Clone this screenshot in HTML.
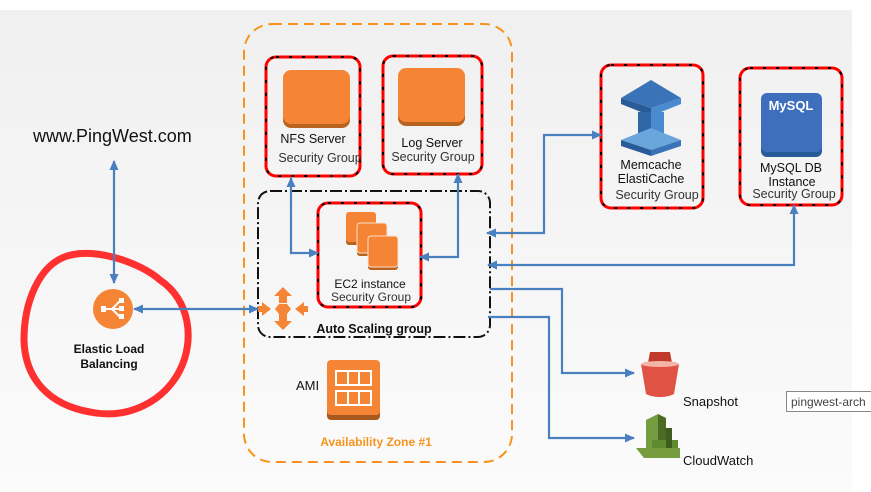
<!DOCTYPE html>
<html><head><meta charset="utf-8"><style>
html,body{margin:0;padding:0;background:#fff;}
svg{display:block;font-family:"Liberation Sans",Arial,sans-serif;}
</style></head><body>
<svg width="871" height="492" viewBox="0 0 871 492" xmlns="http://www.w3.org/2000/svg">
<defs>
<linearGradient id="bg" x1="0" y1="0" x2="0" y2="1"><stop offset="0" stop-color="#f0f0f0"/><stop offset="1" stop-color="#fbfbfb"/></linearGradient>
<marker id="ah" markerWidth="10" markerHeight="10" refX="9" refY="5" orient="auto" markerUnits="userSpaceOnUse"><path d="M0,0.5 L10,5 L0,9.5 z" fill="#4a7fc0"/></marker>
<marker id="at" markerWidth="10" markerHeight="10" refX="1" refY="5" orient="auto" markerUnits="userSpaceOnUse"><path d="M10,0.5 L0,5 L10,9.5 z" fill="#4a7fc0"/></marker>
</defs>
<rect x="0" y="10" width="852" height="482" fill="url(#bg)"/>

<rect x="244" y="24" width="268" height="438" rx="28" fill="none" stroke="#f7941d" stroke-width="2" stroke-dasharray="10 6"/>
<rect x="258" y="191" width="232" height="146" rx="12" fill="none" stroke="#111" stroke-width="2" stroke-dasharray="12 3 2 3"/>

<g fill="none">
<rect x="266" y="57" width="94" height="119" rx="10" stroke="#f00" stroke-width="3"/>
<rect x="266" y="57" width="94" height="119" rx="10" stroke="#000" stroke-width="2" stroke-dasharray="3 10"/>
<rect x="383" y="56" width="99" height="118" rx="10" stroke="#f00" stroke-width="3"/>
<rect x="383" y="56" width="99" height="118" rx="10" stroke="#000" stroke-width="2" stroke-dasharray="3 10"/>
<rect x="318" y="203" width="103" height="104" rx="10" stroke="#f00" stroke-width="3"/>
<rect x="318" y="203" width="103" height="104" rx="10" stroke="#000" stroke-width="2" stroke-dasharray="3 10"/>
<rect x="601" y="65" width="102" height="143" rx="10" stroke="#f00" stroke-width="3"/>
<rect x="601" y="65" width="102" height="143" rx="10" stroke="#000" stroke-width="2" stroke-dasharray="3 10"/>
<rect x="740" y="68" width="102" height="137" rx="10" stroke="#f00" stroke-width="3"/>
<rect x="740" y="68" width="102" height="137" rx="10" stroke="#000" stroke-width="2" stroke-dasharray="3 10"/>
</g>

<rect x="283" y="72" width="67" height="56" rx="8" fill="#b8631f"/>
<rect x="283" y="70" width="67" height="54" rx="8" fill="#f58535"/>
<rect x="398" y="70" width="67" height="56" rx="8" fill="#b8631f"/>
<rect x="398" y="68" width="67" height="54" rx="8" fill="#f58535"/>

<g>
<rect x="346" y="213" width="30" height="32" rx="3" fill="#b8631f"/><rect x="346" y="212" width="30" height="30" rx="3" fill="#f58535"/>
<rect x="357" y="224" width="30" height="32" rx="3" fill="#b8631f"/><rect x="357" y="223" width="30" height="30" rx="3" fill="#f58535" stroke="#fbe0cc" stroke-width="1"/>
<rect x="368" y="237" width="30" height="33" rx="3" fill="#b8631f"/><rect x="368" y="236" width="30" height="31" rx="3" fill="#f58535" stroke="#fbe0cc" stroke-width="1"/>
</g>
<text x="370" y="288" font-size="12" text-anchor="middle" fill="#111">EC2 instance</text>
<text x="371" y="301" font-size="12" text-anchor="middle" fill="#333">Security Group</text>

<text x="313" y="143" font-size="12.5" text-anchor="middle" fill="#111">NFS Server</text>
<text x="320" y="162" font-size="12.5" text-anchor="middle" fill="#333">Security Group</text>
<text x="432" y="147" font-size="12.5" text-anchor="middle" fill="#111">Log Server</text>
<text x="433" y="161" font-size="12.5" text-anchor="middle" fill="#333">Security Group</text>

<g fill="#f58535">
<path d="M283,287 L292,296 L287,296 L287,303 L279,303 L279,296 L274,296 z"/>
<path d="M283,330 L292,321 L287,321 L287,314 L279,314 L279,321 L274,321 z"/>
<path d="M271,309 L262,302 L262,306 L258,306 L258,312 L262,312 L262,316 z"/>
<path d="M295,309 L304,302 L304,306 L308,306 L308,312 L304,312 L304,316 z"/>
<path d="M279,304 L287,304 L291,309 L287,314 L279,314 L275,309 z"/>
</g>
<text x="374" y="333" font-size="12.5" font-weight="bold" text-anchor="middle" fill="#111">Auto Scaling group</text>

<text x="296" y="390" font-size="13" fill="#111">AMI</text>
<rect x="327" y="362" width="53" height="58" rx="4" fill="#a85a1e"/>
<rect x="327" y="360" width="53" height="55" rx="4" fill="#f58535"/>
<g fill="none" stroke="#fff" stroke-width="2">
<rect x="336" y="371" width="35" height="14"/><rect x="336" y="391" width="35" height="14"/>
<line x1="348" y1="371" x2="348" y2="385"/><line x1="359" y1="371" x2="359" y2="385"/>
<line x1="348" y1="391" x2="348" y2="405"/><line x1="359" y1="391" x2="359" y2="405"/>
</g>
<text x="376" y="446" font-size="12" font-weight="bold" text-anchor="middle" fill="#f7941d">Availability Zone #1</text>

<text x="33" y="142" font-size="18" fill="#111">www.PingWest.com</text>
<circle cx="113" cy="309" r="20" fill="#f58535"/>
<g stroke="#fff" stroke-width="2" fill="none"><path d="M104,309 L112,309 M112,309 L120,301 M112,309 L120,309 M112,309 L120,317"/></g>
<g fill="#fff"><rect x="101" y="306" width="5" height="6"/><rect x="119" y="298" width="5" height="5"/><rect x="119" y="306" width="5" height="5"/><rect x="119" y="314" width="5" height="5"/></g>
<text x="109" y="353" font-size="12" font-weight="bold" text-anchor="middle" fill="#111">Elastic Load</text>
<text x="109" y="368" font-size="12" font-weight="bold" text-anchor="middle" fill="#111">Balancing</text>
<path d="M62,258 C90,245 140,262 160,280 C190,300 195,340 180,370 C165,400 130,420 90,412 C50,405 25,380 24,340 C24,300 40,268 62,258 Z" fill="none" stroke="#ff3030" stroke-width="7" stroke-linejoin="round"/>

<g stroke="#4a7fc0" stroke-width="2.2" fill="none">
<line x1="114" y1="161" x2="114" y2="283" marker-start="url(#at)" marker-end="url(#ah)"/>
<line x1="134" y1="309" x2="258" y2="309" marker-start="url(#at)" marker-end="url(#ah)"/>
<polyline points="291,178 291,253 318,253" marker-start="url(#at)" marker-end="url(#ah)"/>
<polyline points="458,174 458,257 420,257" marker-start="url(#at)" marker-end="url(#ah)"/>
<polyline points="487,233 544,233 544,135 601,135" marker-start="url(#at)" marker-end="url(#ah)"/>
<polyline points="488,265 794,265 794,205" marker-start="url(#at)" marker-end="url(#ah)"/>
<polyline points="490,289 562,289 562,373 634,373" marker-end="url(#ah)"/>
<polyline points="488,317 549,317 549,438 634,438" marker-end="url(#ah)"/>
</g>

<!-- Memcache icon -->
<path d="M621,98 L651,80 L681,98 L651,108 z" fill="#3a73b8"/>
<path d="M621,98 L651,108 L651,116 L621,104 z" fill="#2a5b99"/>
<path d="M681,98 L651,108 L651,116 L681,104 z" fill="#4a8bd0"/>
<rect x="638" y="112" width="13" height="24" fill="#2f66a8"/>
<rect x="651" y="112" width="13" height="24" fill="#4a8bd0"/>
<path d="M621,140 L651,128 L681,140 L651,150 z" fill="#6aa5dc"/>
<path d="M621,140 L651,150 L651,156 L621,146 z" fill="#2a5b99"/>
<path d="M681,140 L651,150 L651,156 L681,146 z" fill="#3a73b8"/>
<text x="651" y="169" font-size="12.5" text-anchor="middle" fill="#111">Memcache</text>
<text x="651" y="183" font-size="12.5" text-anchor="middle" fill="#111">ElastiCache</text>
<text x="657" y="199" font-size="12.5" text-anchor="middle" fill="#333">Security Group</text>

<rect x="761" y="95" width="61" height="62" rx="6" fill="#2a5b99"/>
<rect x="761" y="93" width="61" height="59" rx="6" fill="#3d6fbd"/>
<text x="791" y="110" font-size="13" font-weight="bold" text-anchor="middle" fill="#fff">MySQL</text>
<text x="791" y="172" font-size="12.5" text-anchor="middle" fill="#111">MySQL DB</text>
<text x="792" y="186" font-size="12.5" text-anchor="middle" fill="#111">Instance</text>
<text x="794" y="198" font-size="12.5" text-anchor="middle" fill="#333">Security Group</text>

<path d="M648,363 L650,352 L670,352 L672,363 z" fill="#c03a2b"/>
<path d="M641,364 L679,364 L674,394 C666,398 654,398 646,394 z" fill="#e05243"/>
<ellipse cx="660" cy="364" rx="19" ry="3" fill="#f5b5a8"/>
<text x="683" y="406" font-size="13" fill="#111">Snapshot</text>

<path d="M646,420 L658,414 L658,450 L646,450 z" fill="#759c3e"/>
<path d="M658,414 L666,418 L666,450 L658,450 z" fill="#4b6b25"/>
<rect x="652" y="440" width="26" height="18" fill="#5e8b2e"/>
<path d="M636,448 L680,448 L680,458 L644,458 z" fill="#759c3e"/>
<rect x="666" y="428" width="6" height="20" fill="#3e5c1d"/>
<text x="683" y="465" font-size="13" fill="#111">CloudWatch</text>

<rect x="786.5" y="391.5" width="90" height="20" fill="#fff" stroke="#888" stroke-width="1"/>
<text x="791" y="406" font-size="12" fill="#444">pingwest-arch</text>
</svg>
</body></html>
